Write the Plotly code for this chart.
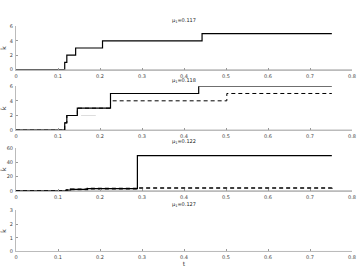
import plotly.graph_objects as go

# ---- data ----
titles = ["μ<sub>1</sub>=0.117", "μ<sub>1</sub>=0.118", "μ<sub>1</sub>=0.122", "μ<sub>1</sub>=0.127"]
x_ticks = [0, 0.1, 0.2, 0.3, 0.4, 0.5, 0.6, 0.7, 0.8]
x_tick_text = ["0", "0.1", "0.2", "0.3", "0.4", "0.5", "0.6", "0.7", "0.8"]

# panel 1
p1_t = [0, 0.116, 0.121, 0.142, 0.206, 0.443, 0.752]
p1_k = [0, 1, 2, 3, 4, 5, 5]
p1_zero_t = [0, 0.8]
p1_zero_k = [0, 0]
# panel 2
p2_solid_t = [0, 0.116, 0.121, 0.146, 0.225, 0.435, 0.752]
p2_solid_k = [0, 1, 2, 3, 5, 6, 6]
p2_dash_t = [0, 0.116, 0.121, 0.146, 0.225, 0.502, 0.752]
p2_dash_k = [0, 1, 2, 3, 4, 5, 5]
p2_light_t = [0.155, 0.19]
p2_light_k = [2, 2]
p2_zero_t = [0, 0.8]
p2_zero_k = [0, 0]
# panel 3
p3_solid_t = [0, 0.12, 0.13, 0.17, 0.289, 0.752]
p3_solid_k = [0, 1, 2, 3, 49, 49]
p3_dash_t = [0, 0.12, 0.13, 0.17, 0.289, 0.745, 0.752]
p3_dash_k = [0, 1, 2, 3, 4, 4, 5]
p3_zero_t = [0, 0.8]
p3_zero_k = [0, 0]
# panel 4
p4_zero_t = [0.12, 0.8]
p4_zero_k = [0, 0]

y_ranges = [[0, 6], [0, 6], [0, 60], [0, 3]]
y_ticks = [[0, 2, 4, 6], [0, 2, 4, 6], [0, 20, 40, 60], [0, 1, 2, 3]]

# ---- layout geometry (paper fractions) ----
H = 276
domains = [(24, 68), (85, 130), (148, 192), (212, 254)]

fig = go.Figure()

def add(t, k, ax, color="black", dash="solid", width=1.2):
    fig.add_trace(go.Scatter(x=t, y=k, mode="lines", line=dict(shape="hv", color=color, dash=dash, width=width),
                             xaxis="x" + ("" if ax == 1 else str(ax)), yaxis="y" + ("" if ax == 1 else str(ax)),
                             showlegend=False, hoverinfo="skip"))

add(p1_zero_t, p1_zero_k, 1, color="#999999", width=1)
add(p1_t, p1_k, 1)
add(p2_zero_t, p2_zero_k, 2, color="#999999", width=1)
add(p2_light_t, p2_light_k, 2, color="#dddddd", width=1)
add(p2_dash_t, p2_dash_k, 2, dash="4px,3px", width=1)
add(p2_solid_t, p2_solid_k, 2)
add(p3_zero_t, p3_zero_k, 3, color="#999999", width=1)
add(p3_dash_t, p3_dash_k, 3, dash="4px,3px", width=1.6)
add(p3_solid_t, p3_solid_k, 3)
add(p4_zero_t, p4_zero_k, 4, color="#888888", width=1)

tickfont = dict(family="DejaVu Sans", size=5, color="#444444")
layout = dict(width=360, height=276, margin=dict(l=15, r=8, t=0, b=0),
              paper_bgcolor="white", plot_bgcolor="white")
annotations = []
for i in range(4):
    top, bot = domains[i]
    dom = [1 - bot / H, 1 - top / H]
    sfx = "" if i == 0 else str(i + 1)
    layout["xaxis" + sfx] = dict(domain=[0, 1], range=[0, 0.8], tickvals=x_ticks, ticktext=x_tick_text,
                                 anchor="y" + sfx, showgrid=False, zeroline=False, showline=True,
                                 linecolor="#bbbbbb", linewidth=1, ticks="inside", ticklen=2,
                                 tickcolor="#999999", tickfont=tickfont, ticklabelstandoff=1)
    layout["yaxis" + sfx] = dict(domain=dom, range=y_ranges[i], tickvals=y_ticks[i], anchor="x" + sfx,
                                 showgrid=False, zeroline=False, showline=True, linecolor="#bbbbbb",
                                 linewidth=1, ticks="inside", ticklen=2, tickcolor="#999999",
                                 tickfont=tickfont, ticklabelstandoff=1,
                                 title=dict(text="k̂", font=dict(family="DejaVu Sans", size=6, color="#333333"),
                                            standoff=2))
    annotations.append(dict(text=titles[i], x=0.5, xref="paper", y=1 - (top - 6) / H, yref="paper",
                            showarrow=False, font=dict(family="DejaVu Sans", size=5, color="#222222"),
                            xanchor="center", yanchor="middle"))
layout["xaxis4"]["title"] = dict(text="t", font=dict(family="DejaVu Sans", size=6, color="#333333"), standoff=1)
layout["annotations"] = annotations
fig.update_layout(**layout)
fig.write_html("out.html")
